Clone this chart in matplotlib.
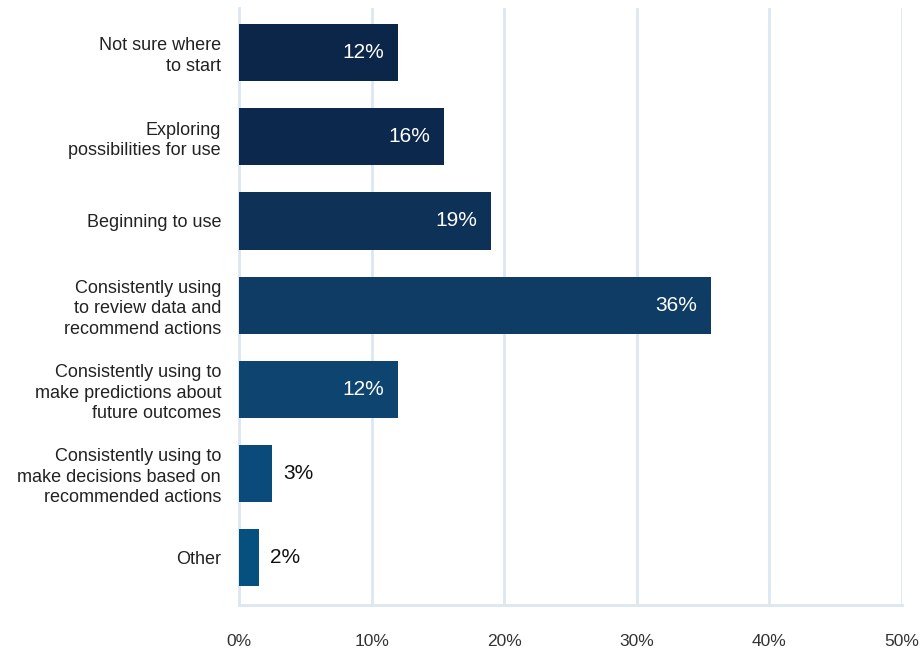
import matplotlib.pyplot as plt
import numpy as np

plt.rcParams['font.family'] = ['Liberation Sans', 'DejaVu Sans']

categories = ['Not sure where\nto start',
              'Exploring\npossibilities for use',
              'Beginning to use',
              'Consistently using\nto review data and\nrecommend actions',
              'Consistently using to\nmake predictions about\nfuture outcomes',
              'Consistently using to\nmake decisions based on\nrecommended actions',
              'Other']
shares = [12.0, 15.5, 19.0, 35.6, 12.0, 2.5, 1.5]
bar_colors = ['#0b2649', '#0c284d', '#0e3158', '#0f3c64', '#0e4470', '#0b4b7b', '#06507f']
x_ticks = [0, 10, 20, 30, 40, 50]
grid_color = '#dde7f0'

fig = plt.figure(figsize=(9.23, 6.53), dpi=100)
ax = fig.add_axes([0.259, 0.0735, 0.718, 0.9145])

y = np.arange(len(categories))
ax.barh(y, shares, height=0.68, color=bar_colors, zorder=3)

for yi, v in zip(y, shares):
    label = f'{int(v + 0.5)}%'  # round half up
    if v > 8:
        ax.annotate(label, (v, yi), xytext=(-10, 0), textcoords='offset points',
                    ha='right', va='center', color='white', fontsize=15, zorder=4)
    else:
        ax.annotate(label, (v, yi), xytext=(8, 0), textcoords='offset points',
                    ha='left', va='center', color='#111111', fontsize=15, zorder=4)

ax.set_xlim(0, 50)
ax.set_ylim(len(categories) - 0.44, -0.53)
ax.set_xticks(x_ticks)
ax.set_xticklabels([f'{t}%' for t in x_ticks])
ax.set_yticks(y)
ax.set_yticklabels(categories, linespacing=1.25)
ax.tick_params(axis='x', length=0, pad=21, labelsize=12.5, labelcolor='#333333')
ax.tick_params(axis='y', length=0, pad=13, labelsize=13, labelcolor='#222222')

ax.grid(axis='x', color=grid_color, linewidth=2, zorder=0)
for side in ['top', 'right']:
    ax.spines[side].set_visible(False)
for side in ['left', 'bottom']:
    ax.spines[side].set_color(grid_color)
    ax.spines[side].set_linewidth(2)

fig.savefig('out.png', dpi=100)
